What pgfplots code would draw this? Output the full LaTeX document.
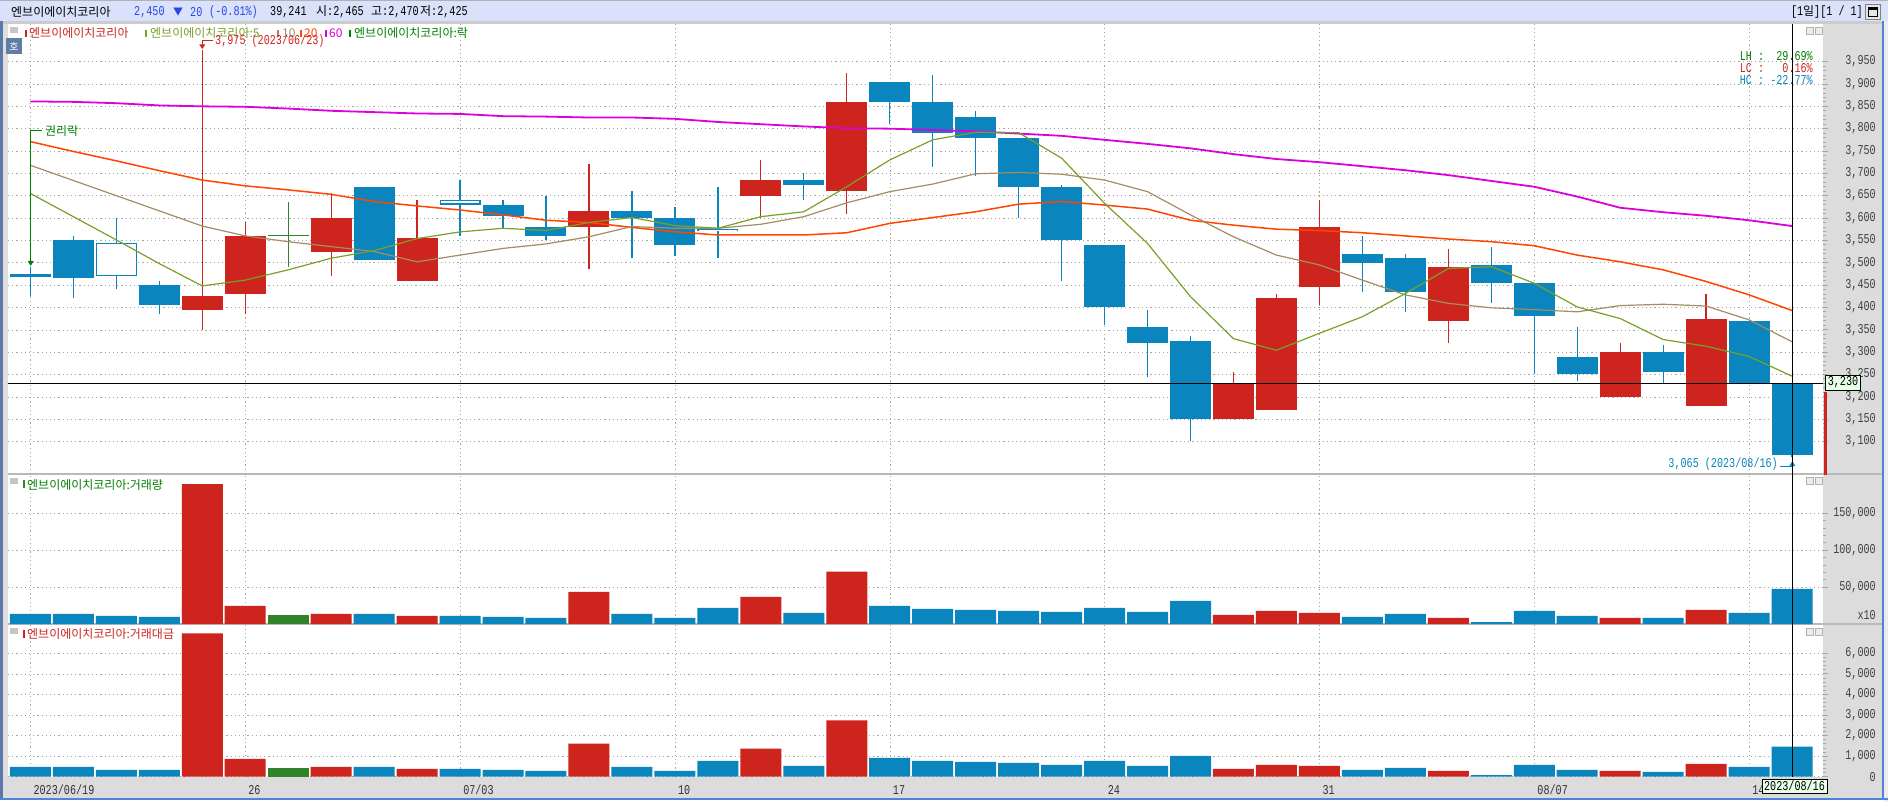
\documentclass[border=0pt]{standalone}
\usepackage{pgfplots}
\pgfplotsset{compat=1.18}
\usepackage{pgfplotstable}
\usepackage{fontspec}
\setmainfont{Noto Sans CJK KR}
\newfontfamily\monofont[FakeStretch=0.75]{Liberation Mono}
\newcommand\mono{\monofont\fontsize{13.5}{14}\selectfont}
\newcommand\kr{\normalfont\fontsize{12}{13}\selectfont}

\definecolor{cred}{RGB}{205,36,30}
\definecolor{cblue}{RGB}{10,133,190}
\definecolor{cgreen}{RGB}{50,130,40}
\definecolor{ma5}{RGB}{122,160,40}
\definecolor{ma10}{RGB}{165,140,100}
\definecolor{ma20}{RGB}{255,69,0}
\definecolor{ma60}{RGB}{220,0,220}
\definecolor{strip}{RGB}{220,220,220}
\definecolor{titlebg}{RGB}{217,226,250}
\definecolor{gridc}{RGB}{165,165,165}
\definecolor{txtblue}{RGB}{40,70,230}
\definecolor{boxg}{RGB}{232,255,232}
\definecolor{lgreen}{RGB}{0,128,0}
\definecolor{frameblue}{RGB}{90,120,170}
\definecolor{lineblue}{RGB}{80,130,220}
\definecolor{iconbg}{RGB}{95,125,165}

% candles: body bottom/top (lo, hi), low, high
\pgfplotstableread{
i lo hi l h
4 3395 3425 3350 3975
5 3430 3560 3385 3590
7 3525 3600 3470 3655
9 3460 3555 3460 3640
13 3580 3615 3485 3720
17 3650 3685 3600 3730
19 3660 3860 3610 3925
28 3150 3230 3150 3255
29 3170 3420 3170 3430
30 3445 3580 3405 3640
33 3370 3490 3320 3530
37 3200 3300 3200 3320
39 3180 3375 3180 3430
}\tred
\pgfplotstableread{
i lo hi l h
0 3468 3475 3425 3490
1 3465 3550 3420 3560
3 3405 3450 3385 3460
8 3505 3670 3505 3670
11 3605 3630 3575 3640
12 3560 3580 3550 3650
14 3600 3615 3510 3660
15 3540 3600 3515 3625
18 3675 3685 3640 3700
20 3860 3905 3810 3905
21 3790 3860 3715 3920
22 3780 3825 3695 3840
23 3670 3780 3600 3780
24 3550 3670 3460 3675
25 3400 3540 3360 3540
26 3320 3355 3245 3395
27 3150 3325 3100 3335
31 3500 3520 3435 3560
32 3435 3510 3390 3520
34 3455 3495 3410 3535
35 3380 3455 3250 3455
36 3250 3290 3235 3355
38 3255 3300 3230 3315
40 3230 3370 3230 3370
41 3070 3230 3065 3230
}\tblue
\pgfplotstableread{
i lo hi l h
2 3470 3545 3440 3600
10 3630 3640 3560 3685
16 3570 3575 3510 3670
}\thollow
\pgfplotstableread{
i lo hi
2 3472.5 3542.5
10 3632.5 3637.5
16 3571.8 3573.2
}\tinner
\pgfplotstableread{
i lo hi l h
6 3559 3561.5 3490 3635
}\tgreen
% moving averages 5, 10, 20, 60
\pgfplotstableread{
i m5 m10 m20 m60
0 3655 3718 3771 3861
1 3603 3684 3749 3860
2 3551 3650 3728 3857
3 3498 3616 3706 3852
4 3448 3582 3685 3850
5 3461 3560 3672 3849
6 3484 3547 3663 3845
7 3510 3536 3653 3840
8 3527 3525 3637 3837
9 3554 3502 3627 3834
10 3569 3517 3618 3833
11 3577 3532 3607 3828
12 3572 3542 3595 3827
13 3590 3558 3590 3825
14 3601 3581 3579 3825
15 3583 3577 3569 3822
16 3577 3577 3562 3815
17 3603 3586 3562 3810
18 3614 3603 3562 3805
19 3670 3634 3567 3801
20 3730 3659 3588 3800
21 3775 3676 3601 3797
22 3792 3699 3614 3794
23 3791 3702 3631 3789
24 3734 3698 3637 3784
25 3633 3685 3629 3775
26 3543 3659 3620 3766
27 3424 3607 3595 3756
28 3330 3558 3584 3743
29 3304 3517 3575 3732
30 3342 3495 3572 3725
31 3379 3461 3567 3716
32 3431 3428 3560 3707
33 3487 3409 3553 3696
34 3491 3399 3547 3683
35 3454 3395 3538 3670
36 3401 3390 3517 3648
37 3375 3404 3502 3623
38 3328 3407 3484 3613
39 3313 3403 3458 3605
40 3290 3372 3428 3595
41 3246 3323 3393 3582
}\tma
% volume (x10) and amount
\pgfplotstableread{
i v a
4 189500 6970
5 24500 870
7 13600 475
9 10900 377
13 43600 1610
17 36800 1360
19 70900 2740
28 12300 377
29 17700 575
30 15000 525
33 8200 280
37 8200 280
39 19100 620
}\vred
\pgfplotstableread{
i v a
0 13600 475
1 13600 475
2 10900 330
3 9500 330
8 13600 475
10 10900 377
11 9500 330
12 8200 280
14 13600 475
15 8200 280
16 21800 770
18 15000 525
20 24500 920
21 20500 770
22 19100 720
23 17700 670
24 16400 575
25 21800 770
26 16400 525
27 31400 1015
31 9500 330
32 13600 425
34 2700 80
35 17700 575
36 10900 330
38 8200 230
40 15000 475
41 47700 1460
}\vblue
\pgfplotstableread{
i v a
6 12300 425
}\vgreen

\pgfplotsset{
  panel/.style={scale only axis, width=1815pt, xmin=-0.521, xmax=41.72,
    axis line style={draw=none}, grid=major,
    major grid style={gridc, dash pattern=on 1.2pt off 3pt},
    xtick={0,5,...,40}, xticklabels={}, xtick style={draw=none},
    ytick pos=right, yticklabel pos=right, tick align=outside,
    scaled y ticks=false,
    ytick style={gray!70, line width=0.8pt},
    major tick length=5pt, minor tick length=3pt,
    yticklabel style={font=\mono, text=black!75, anchor=east, inner sep=0pt, xshift=48pt}},
  wick/.style={draw=none, mark=none, forget plot,
    error bars/.cd, y dir=plus, y explicit, error mark=none,
    error bar style={draw=#1, line width=1.3pt}},
  body/.style 2 args={draw=none, mark=none, forget plot,
    error bars/.cd, y dir=plus, y explicit, error mark=none,
    error bar style={draw=#1, line width=#2}},
}

\begin{document}
\begin{tikzpicture}
\useasboundingbox (0pt,0pt) rectangle (1888pt,-802pt);
\begin{scope}[x=1pt,y=-1pt]
  \fill[white] (0,0) rectangle (1888,802);
  \fill[titlebg] (0,0) rectangle (1888,21);
  \draw[gray!60] (0,0.5) -- (1888,0.5);
  \fill[gray!40] (0,21) rectangle (1888,24);
  \fill[strip] (1823,24) rectangle (1888,800);
  \fill[strip] (0,777) rectangle (1888,800);
  \fill[frameblue] (0,21) rectangle (3,800);
  \fill[gray!25] (3,24) rectangle (8,777);
  \fill[lineblue] (1882,21) rectangle (1884,800);
  \fill[gray!15] (1884,21) rectangle (1888,802);
  \fill[lineblue] (0,798) rectangle (1888,800);
  \fill[gray!55] (8,473) rectangle (1882,475);
  \fill[gray!55] (8,623) rectangle (1882,625);
\end{scope}

% price panel
\begin{axis}[panel, at={(8pt,-474pt)}, anchor=south west, height=450pt,
  ymin=3027, ymax=4034.3, ytick={3100,3150,...,3950}, minor y tick num=4,
  yticklabels={{3,100},{3,150},{3,200},{3,250},{3,300},{3,350},{3,400},{3,450},{3,500},{3,550},{3,600},{3,650},{3,700},{3,750},{3,800},{3,850},{3,900},{3,950}}]
  \addplot[wick=cred] table[x=i, y=l, y error expr=\thisrow{h}-\thisrow{l}] {\tred};
  \addplot[wick=cblue] table[x=i, y=l, y error expr=\thisrow{h}-\thisrow{l}] {\tblue};
  \addplot[wick=cblue] table[x=i, y=l, y error expr=\thisrow{h}-\thisrow{l}] {\thollow};
  \addplot[wick=cgreen] table[x=i, y=l, y error expr=\thisrow{h}-\thisrow{l}] {\tgreen};
  \addplot[body={cred}{41pt}] table[x=i, y=lo, y error expr=\thisrow{hi}-\thisrow{lo}] {\tred};
  \addplot[body={cblue}{41pt}] table[x=i, y=lo, y error expr=\thisrow{hi}-\thisrow{lo}] {\tblue};
  \addplot[body={cblue}{41pt}] table[x=i, y=lo, y error expr=\thisrow{hi}-\thisrow{lo}] {\thollow};
  \addplot[body={white}{38.6pt}] table[x=i, y=lo, y error expr=\thisrow{hi}-\thisrow{lo}] {\tinner};
  \addplot[body={cgreen}{41pt}] table[x=i, y=lo, y error expr=\thisrow{hi}-\thisrow{lo}] {\tgreen};
  \addplot[ma60, line width=1.8pt, mark=none] table[x=i, y=m60] {\tma};
  \addplot[ma20, line width=1.5pt, mark=none] table[x=i, y=m20] {\tma};
  \addplot[ma10, line width=1.2pt, mark=none] table[x=i, y=m10] {\tma};
  \addplot[ma5, line width=1.2pt, mark=none] table[x=i, y=m5] {\tma};
  \draw[black, line width=1.2pt] (axis cs:-1,3230) -- (axis cs:43,3230);
\end{axis}

% volume panel
\begin{axis}[panel, at={(8pt,-624pt)}, anchor=south west, height=150pt,
  ymin=0, ymax=203250, ytick={50000,100000,150000}, minor y tick num=4,
  yticklabels={{50,000},{100,000},{150,000}}, ybar, bar width=41pt]
  \addplot[fill=cblue, draw=none, bar shift=0pt] table[x=i, y=v] {\vblue};
  \addplot[fill=cred, draw=none, bar shift=0pt] table[x=i, y=v] {\vred};
  \addplot[fill=cgreen, draw=none, bar shift=0pt] table[x=i, y=v] {\vgreen};
\end{axis}

% amount panel
\begin{axis}[panel, at={(8pt,-777pt)}, anchor=south west, height=153pt,
  ymin=-15, ymax=7424, ytick={0,1000,...,6000}, minor y tick num=4,
  yticklabels={0,{1,000},{2,000},{3,000},{4,000},{5,000},{6,000}},
  xticklabels={2023/06/19,26,07/03,10,17,24,31,08/07,14},
  xtick style={gray!70, line width=0.8pt}, xtick pos=bottom,
  xticklabel style={font=\mono, text=black!80, anchor=west, inner sep=0pt, xshift=3pt, yshift=-8pt},
  ybar, bar width=41pt]
  \addplot[fill=cblue, draw=none, bar shift=0pt] table[x=i, y=a] {\vblue};
  \addplot[fill=cred, draw=none, bar shift=0pt] table[x=i, y=a] {\vred};
  \addplot[fill=cgreen, draw=none, bar shift=0pt] table[x=i, y=a] {\vgreen};
\end{axis}

\begin{scope}[x=1pt,y=-1pt]
  % title bar
  \node[anchor=west, inner sep=0pt] at (11,12) {\kr 엔브이에이치코리아};
  \node[anchor=west, inner sep=0pt, text=txtblue] at (134,12.5) {\mono 2,450};
  \node[anchor=west, inner sep=0pt, text=txtblue] at (173,12) {\kr\fontsize{10}{10}\selectfont ▼};
  \node[anchor=west, inner sep=0pt, text=txtblue] at (190,12.5) {\mono 20};
  \node[anchor=west, inner sep=0pt, text=txtblue] at (209,12.5) {\mono (-0.81\%)};
  \node[anchor=west, inner sep=0pt] at (270,12.5) {\mono 39,241};
  \node[anchor=west, inner sep=0pt] at (316,12) {\kr 시\mono :2,465};
  \node[anchor=west, inner sep=0pt] at (371,12) {\kr 고\mono :2,470};
  \node[anchor=west, inner sep=0pt] at (420,12) {\kr 저\mono :2,425};
  \node[anchor=east, inner sep=0pt] at (1863,12) {\mono [1\kr 일\mono ][1 / 1]};
  \draw[gray, fill=gray!20] (1865,4) rectangle (1880,19);
  \draw[black, line width=0.8pt] (1868,7.5) rectangle (1877,16);
  \fill[black] (1868,7.5) rectangle (1877,10.5);

  % legend of price panel
  \fill[gray!45] (10,27) rectangle (18,33);
  \fill[cred] (24.5,30) rectangle (26.5,37);
  \node[anchor=west, inner sep=0pt, text=cred] at (29,33.5) {\kr 엔브이에이치코리아};
  \fill[ma5] (145,30) rectangle (147,37);
  \node[anchor=west, inner sep=0pt, text=ma5] at (150,33.5) {\kr 엔브이에이치코리아:5};
  \fill[ma10] (277,30) rectangle (279,37);
  \node[anchor=west, inner sep=0pt, text=ma10] at (282,33.5) {\kr 10};
  \fill[ma20] (300,30) rectangle (302,37);
  \node[anchor=west, inner sep=0pt, text=ma20] at (304,33.5) {\kr 20};
  \fill[ma60] (325,30) rectangle (327,37);
  \node[anchor=west, inner sep=0pt, text=ma60] at (329,33.5) {\kr 60};
  \fill[lgreen] (349,30) rectangle (351,37);
  \node[anchor=west, inner sep=0pt, text=lgreen] at (354,33.5) {\kr 엔브이에이치코리아:락};
  \fill[iconbg] (6,38) rectangle (22,54);
  \node[text=white, inner sep=0pt] at (14,46) {\kr\fontsize{10}{10}\selectfont 호};

  % annotations
  \draw[cred, line width=1pt] (202.3,47) -- (202.3,40.5) -- (213,40.5);
  \fill[cred] (199.3,44.5) -- (205.3,44.5) -- (202.3,49) -- cycle;
  \node[anchor=west, inner sep=0pt, text=cred] at (215,41.5) {\mono 3,975 (2023/06/23)};
  \draw[lgreen, line width=1pt] (41.7,130.7) -- (30.7,130.7) -- (30.7,262);
  \fill[lgreen] (27.7,261) -- (33.7,261) -- (30.7,266) -- cycle;
  \node[anchor=west, inner sep=0pt, text=lgreen] at (45,130.7) {\kr 권리락};
  \node[anchor=east, inner sep=0pt, text=cblue] at (1778,464.3) {\mono 3,065 (2023/08/16)};
  \draw[cblue, line width=1pt] (1780,466.7) -- (1792.3,466.7);
  \fill[cblue] (1789.3,466) -- (1795.3,466) -- (1792.3,461) -- cycle;
  \node[anchor=east, inner sep=0pt, text=lgreen] at (1813,55.7) {\mono LH~:~~29.69\%};
  \node[anchor=east, inner sep=0pt, text=cred] at (1813,68) {\mono LC~:~~~0.16\%};
  \node[anchor=east, inner sep=0pt, text=cblue] at (1813,80) {\mono HC~:~-22.77\%};

  % panel labels
  \fill[gray!45] (10,478) rectangle (18,484);
  \fill[cgreen] (23,480) rectangle (25,488);
  \node[anchor=west, inner sep=0pt, text=lgreen] at (27,485) {\kr 엔브이에이치코리아:거래량};
  \fill[gray!45] (10,628) rectangle (18,634);
  \fill[cred] (23,630) rectangle (25,638);
  \node[anchor=west, inner sep=0pt, text=cred] at (27,634.5) {\kr 엔브이에이치코리아:거래대금};
  \foreach \yy in {27,477,628} {
    \draw[gray!60, fill=gray!15] (1806,\yy) rectangle (1813,\yy+7);
    \draw[gray!60, fill=gray!15] (1815,\yy) rectangle (1822,\yy+7);
  }
  \node[anchor=east, inner sep=0pt, text=black!75] at (1876,615) {\mono x10};

  % crosshair and current value boxes
  \draw[black, line width=1.2pt] (1792.3,24) -- (1792.3,777);
  \fill[cred] (1824,391.7) rectangle (1826.7,475);
  \draw[black, fill=boxg, line width=0.8pt] (1825.7,375) rectangle (1860,390);
  \node[inner sep=0pt] at (1843,382.5) {\mono 3,230};
  \draw[black, fill=boxg, line width=0.8pt] (1762,779) rectangle (1827,793);
  \node[inner sep=0pt] at (1794.5,786) {\mono 2023/08/16};
\end{scope}
\end{tikzpicture}
\end{document}
